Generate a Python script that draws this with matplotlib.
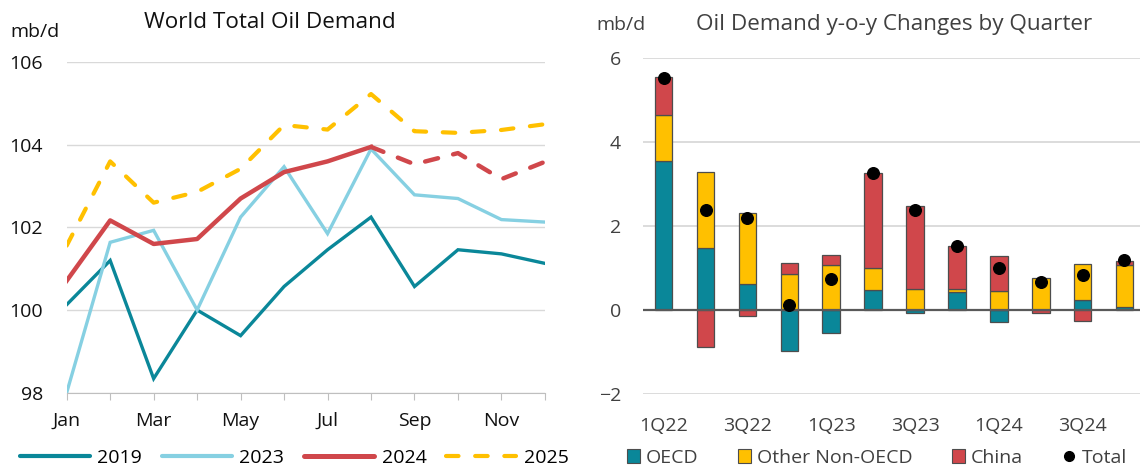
import numpy as np
import matplotlib
matplotlib.use('Agg')
import matplotlib.pyplot as plt
from matplotlib.patches import Patch
from matplotlib.lines import Line2D

plt.rcParams.update({
    "font.family": ["Open Sans", "DejaVu Sans"],
    "font.size": 14,
})

# ---- data: left panel (mb/d) ----
months = ["Jan", "Feb", "Mar", "Apr", "May", "Jun", "Jul", "Aug", "Sep", "Oct", "Nov", "Dec"]
demand_2019 = [100.13, 101.2, 98.34, 100.0, 99.38, 100.57, 101.46, 102.25, 100.57, 101.46, 101.36, 101.13]
demand_2023 = [98.0, 101.64, 101.93, 100.0, 102.25, 103.47, 101.85, 103.9, 102.79, 102.7, 102.19, 102.13]
demand_2024 = [100.71, 102.17, 101.6, 101.72, 102.7, 103.34, 103.6, 103.95, 103.53, 103.8, 103.17, 103.59]
demand_2025 = [101.56, 103.6, 102.6, 102.86, 103.42, 104.48, 104.37, 105.23, 104.33, 104.29, 104.36, 104.5]
n_actual_2024 = 8  # Jan-Aug actual, Aug-Dec forecast (dashed)

# ---- data: right panel (y-o-y change, mb/d) ----
quarters = ["1Q22", "2Q22", "3Q22", "4Q22", "1Q23", "2Q23", "3Q23", "4Q23", "1Q24", "2Q24", "3Q24", "4Q24"]
oecd = [3.54, 1.46, 0.62, -0.98, -0.55, 0.47, -0.08, 0.41, -0.30, 0.0, 0.23, 0.07]
other_non_oecd = [1.09, 1.82, 1.69, 0.86, 1.06, 0.53, 0.50, 0.09, 0.44, 0.75, 0.86, 1.00]
china = [0.90, -0.90, -0.14, 0.25, 0.24, 2.26, 1.96, 1.01, 0.85, -0.09, -0.26, 0.10]
total = [5.52, 2.38, 2.18, 0.12, 0.74, 3.26, 2.38, 1.52, 0.99, 0.67, 0.82, 1.19]

C_TEAL = "#0a8799"
C_LBLUE = "#86d0e2"
C_RED = "#d0474b"
C_YEL = "#ffc000"
GRID = "#d9d9d9"
GREY_TXT = "#404040"

fig = plt.figure(figsize=(11.4, 4.68), dpi=100)

# ================= left panel =================
ax = fig.add_axes([0.0585, 0.161, 0.4195, 0.706])
x = np.arange(len(months))
ax.plot(x, demand_2019, color=C_TEAL, lw=2.4, solid_joinstyle="miter", label="2019")
ax.plot(x, demand_2023, color=C_LBLUE, lw=2.4, solid_joinstyle="miter", label="2023")
ax.plot(x[:n_actual_2024], demand_2024[:n_actual_2024], color=C_RED, lw=3.2, label="2024")
ax.plot(x[n_actual_2024 - 1:], demand_2024[n_actual_2024 - 1:], color=C_RED, lw=3.2,
        dashes=(3, 3.5), dash_capstyle="round")
ax.plot(x, demand_2025, color=C_YEL, lw=3.0, dashes=(3, 4), dash_capstyle="round", label="2025")

ax.set_xlim(0, 11)
ax.set_ylim(98, 106)
ax.set_yticks([98, 100, 102, 104, 106])
ax.set_xticks(x)
ax.set_xticklabels([m if i % 2 == 0 else "" for i, m in enumerate(months)])
ax.grid(axis="y", color=GRID, lw=1)
ax.set_axisbelow(True)
for s in ["top", "right", "left"]:
    ax.spines[s].set_visible(False)
ax.spines["bottom"].set_color("#bfbfbf")
ax.tick_params(axis="x", length=5, color="#bfbfbf", pad=9, labelsize=14, labelcolor="#111111")
ax.tick_params(axis="y", length=0, pad=17, labelsize=14, labelcolor="#111111")
fig.text(0.009, 0.932, "mb/d", fontsize=14, color="#111111", va="center")
fig.text(0.2364, 0.951, "World Total Oil Demand", fontsize=16.2, color="#111111", ha="center", va="center")

leg_handles = [
    Line2D([], [], color=C_TEAL, lw=3, solid_capstyle="round"),
    Line2D([], [], color=C_LBLUE, lw=3, solid_capstyle="round"),
    Line2D([], [], color=C_RED, lw=3.6, solid_capstyle="round"),
    Line2D([], [], color=C_YEL, lw=3.0, dashes=(3, 4), dash_capstyle="round"),
]
fig.legend(leg_handles, ["2019", "2023", "2024", "2025"], loc="center", bbox_to_anchor=(0.258, 0.022),
           ncol=4, frameon=False, fontsize=14, handlelength=3.6, handletextpad=0.4, columnspacing=1.0)

# ================= right panel =================
ax2 = fig.add_axes([0.5638, 0.1588, 0.4362, 0.7179])
q = np.arange(len(quarters))
series = [(oecd, C_TEAL), (other_non_oecd, C_YEL), (china, C_RED)]
pos_base = np.zeros(len(q))
neg_base = np.zeros(len(q))
for vals, col in series:
    v = np.asarray(vals)
    bottom = np.where(v >= 0, pos_base, neg_base)
    ax2.bar(q, v, bottom=bottom, width=0.42, color=col, edgecolor="#4d4d4d", lw=0.9, zorder=2)
    pos_base = pos_base + np.clip(v, 0, None)
    neg_base = neg_base + np.clip(v, None, 0)
ax2.scatter(q, total, s=70, color="black", zorder=4)
ax2.axhline(0, color="#595959", lw=1.6, zorder=3)

ax2.set_xlim(-0.5, 11.37)
ax2.set_ylim(-2, 6)
ax2.set_yticks([-2, 0, 2, 4, 6])
ax2.set_xticks(q[::2])
ax2.set_xticklabels(quarters[::2])
ax2.grid(axis="y", color=GRID, lw=1.3, zorder=0)
ax2.set_axisbelow(True)
for s in ax2.spines.values():
    s.set_visible(False)
ax2.tick_params(axis="x", length=0, pad=17, labelsize=14, labelcolor=GREY_TXT)
ax2.tick_params(axis="y", length=0, pad=15.5, labelsize=14, labelcolor=GREY_TXT)
fig.text(0.5235, 0.947, "mb/d", fontsize=14, color=GREY_TXT, va="center")
fig.text(0.784, 0.947, "Oil Demand y-o-y Changes by Quarter", fontsize=16.2, color=GREY_TXT,
         ha="center", va="center")

leg2 = [
    Patch(facecolor=C_TEAL, edgecolor="#4d4d4d", lw=0.8),
    Patch(facecolor=C_YEL, edgecolor="#4d4d4d", lw=0.8),
    Patch(facecolor=C_RED, edgecolor="#4d4d4d", lw=0.8),
    Line2D([], [], marker="o", ls="none", color="black", markersize=7),
]
lg = fig.legend(leg2, ["OECD", "Other Non-OECD", "China", "Total"], loc="center",
                bbox_to_anchor=(0.769, 0.022), ncol=4, frameon=False, fontsize=14,
                handlelength=0.7, handleheight=0.7, handletextpad=0.3, columnspacing=2.0)
for t in lg.get_texts():
    t.set_color(GREY_TXT)

fig.savefig("out.png", dpi=100)
